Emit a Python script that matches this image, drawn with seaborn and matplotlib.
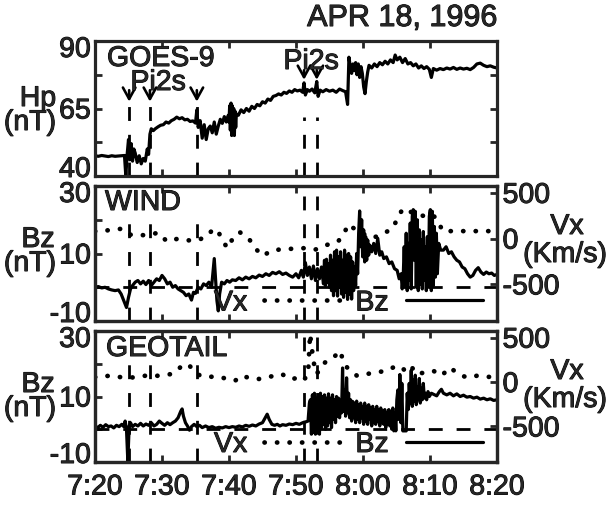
import matplotlib
matplotlib.use("Agg")
import matplotlib.pyplot as plt
import matplotlib.patheffects as pe
from matplotlib.text import Text
from matplotlib.transforms import ScaledTranslation
import seaborn as sns

# time axis: minutes after 07:20 UT, APR 18 1996
TICK_MIN = [0, 10, 20, 30, 40, 50, 60]
TICK_LABELS = ["7:20", "7:30", "7:40", "7:50", "8:00", "8:10", "8:20"]
PI2_ONSETS = [5.1, 8.2, 15.2, 31.2, 33.1]

# GOES-9 Hp (nT): (minute, value)
HP = [(0.0, 47.5), (0.5, 47.3), (1.0, 47.6), (1.5, 47.4), (2.0, 47.2), (2.5, 47.5),
      (3.0, 47.3), (3.5, 47.4), (4.0, 47.5), (4.4, 47.6), (4.6, 40.0), (4.8, 48.0),
      (5.0, 53.5), (5.2, 46.0), (5.4, 52.0), (5.6, 45.5), (5.8, 50.0), (6.0, 48.5),
      (6.3, 45.0), (6.6, 47.5), (6.9, 44.5), (7.2, 46.5), (7.5, 45.5), (7.8, 50.0),
      (8.0, 48.0), (8.2, 55.5), (8.4, 57.5), (8.7, 56.8), (9.0, 57.5), (9.4, 58.2),
      (9.8, 58.8), (10.2, 59.0), (10.6, 60.0), (11.0, 59.6), (11.4, 60.5), (11.8, 61.0),
      (12.2, 61.8), (12.6, 61.2), (13.0, 61.6), (13.4, 60.8), (13.8, 61.0), (14.2, 60.2),
      (14.6, 60.4), (15.0, 59.6), (15.2, 64.5), (15.4, 58.0), (15.7, 60.5), (16.0, 54.0),
      (16.3, 59.0), (16.6, 53.5), (16.9, 57.5), (17.2, 58.5), (17.5, 56.0), (17.8, 60.0),
      (18.1, 55.5), (18.4, 58.5), (18.7, 61.0), (19.0, 59.5), (19.3, 62.0), (19.6, 60.0),
      (19.9, 62.5), (20.0, 60.0), (20.1, 66.0), (20.2, 57.0), (20.3, 67.0), (20.4, 55.0),
      (20.5, 66.0), (20.6, 56.0), (20.7, 65.0), (20.8, 55.0), (20.9, 64.0), (21.0, 58.0),
      (21.1, 63.0), (21.4, 62.5), (21.8, 64.5), (22.2, 63.5), (22.6, 65.0), (23.0, 64.0),
      (23.4, 65.8), (23.8, 65.0), (24.2, 66.5), (24.6, 66.0), (25.0, 67.5), (25.4, 67.0),
      (25.8, 68.5), (26.2, 68.0), (26.6, 69.5), (27.0, 69.8), (27.4, 70.4), (27.8, 70.0),
      (28.2, 71.0), (28.6, 70.6), (29.0, 71.5), (29.4, 71.0), (29.8, 72.0), (30.2, 71.5),
      (30.6, 71.8), (31.0, 71.0), (31.2, 74.5), (31.4, 70.0), (31.7, 72.0), (32.0, 71.4),
      (32.4, 72.2), (32.8, 70.8), (33.1, 75.0), (33.3, 69.5), (33.6, 71.8), (34.0, 71.2),
      (34.5, 72.0), (35.0, 71.4), (35.5, 71.8), (36.0, 71.0), (36.5, 72.2), (37.0, 71.6),
      (37.4, 71.2), (37.7, 66.5), (37.9, 84.0), (38.1, 80.5), (38.3, 78.0), (38.5, 81.5),
      (38.7, 79.0), (38.9, 82.0), (39.1, 77.5), (39.3, 81.5), (39.5, 76.5), (39.7, 80.5),
      (39.9, 78.0), (40.1, 73.0), (40.3, 70.5), (40.5, 75.0), (40.7, 78.5), (40.9, 81.0),
      (41.3, 80.0), (41.7, 81.5), (42.1, 80.5), (42.5, 82.0), (42.9, 81.2), (43.3, 82.5),
      (43.7, 81.5), (44.1, 83.0), (44.5, 82.0), (44.8, 84.8), (45.1, 83.0), (45.5, 84.0),
      (45.9, 82.0), (46.3, 83.5), (46.7, 81.5), (47.1, 82.0), (47.5, 80.8), (47.9, 81.5),
      (48.3, 80.0), (48.7, 80.8), (49.1, 79.8), (49.5, 80.5), (49.9, 79.5), (50.2, 76.5),
      (50.5, 79.8), (51.0, 79.2), (51.5, 79.8), (52.0, 79.4), (52.5, 80.0), (53.0, 79.6),
      (53.5, 80.2), (54.0, 79.5), (54.5, 80.0), (55.0, 79.6), (55.5, 79.9), (56.0, 79.4),
      (56.5, 80.2), (57.0, 81.5), (57.5, 81.8), (58.0, 81.0), (58.5, 80.5), (59.0, 80.8),
      (59.5, 80.3), (60.0, 80.0)]

# WIND Bz (nT)
WIND_BZ = [(0.0, 0.0), (0.5, 0.2), (1.0, -0.2), (1.5, 0.0), (2.0, -0.5), (2.5, -0.8),
           (3.0, -1.0), (3.5, -0.8), (3.9, -2.0), (4.3, -4.0), (4.7, -6.0), (5.0, -3.0),
           (5.3, -0.5), (5.6, 0.5), (6.0, 1.5), (6.4, 2.0), (6.8, 1.0), (7.2, 1.8),
           (7.6, 0.8), (8.0, 2.0), (8.4, 0.5), (8.8, 1.5), (9.2, 2.5), (9.6, 2.0),
           (10.0, 3.5), (10.4, 2.5), (10.8, 1.0), (11.2, 1.5), (11.6, 0.0), (12.0, 0.5),
           (12.4, -0.5), (12.8, -1.0), (13.2, -1.5), (13.6, -2.5), (14.0, -2.0), (14.4, -3.8),
           (14.7, -1.5), (15.0, -1.8), (15.4, 0.0), (15.8, -0.5), (16.2, 1.0), (16.6, 0.5),
           (17.0, 1.5), (17.4, 0.0), (17.8, 8.5), (18.0, 2.0), (18.2, -4.0), (18.4, -7.0),
           (18.6, -2.0), (18.9, 1.5), (19.3, 1.0), (19.7, 2.0), (20.1, 1.5), (20.5, 2.2),
           (21.0, 2.0), (21.5, 2.8), (22.0, 2.2), (22.5, 3.0), (23.0, 2.5), (23.5, 3.2),
           (24.0, 2.8), (24.5, 3.6), (25.0, 3.2), (25.5, 4.0), (26.0, 3.5), (26.5, 4.4),
           (27.0, 4.0), (27.5, 4.6), (28.0, 3.8), (28.5, 4.2), (29.0, 3.5), (29.5, 3.0),
           (30.0, 4.0), (30.4, 2.8), (30.8, 5.0), (31.1, 3.0), (31.4, 7.3), (31.7, 3.5),
           (32.0, 6.0), (32.3, 2.5), (32.6, 6.3), (32.9, 2.0), (33.2, 5.5), (33.5, 2.5),
           (33.8, 6.0), (34.1, 1.0), (34.25, 8.0), (34.4, 0.5), (34.55, 8.3), (34.7, 1.5),
           (34.85, 7.0), (35.0, 0.0), (35.15, 9.5), (35.3, -1.0), (35.45, 8.0), (35.6, -2.5),
           (35.75, 10.5), (35.9, -1.0), (36.05, 11.0), (36.2, -2.6), (36.35, 9.0), (36.5, 0.0),
           (36.65, 10.5), (36.8, -2.0), (36.95, 8.0), (37.1, -3.0), (37.25, 11.0), (37.4, -1.5),
           (37.55, 9.5), (37.7, -3.6), (37.85, 10.0), (38.0, -2.0), (38.15, 9.0), (38.3, -3.5),
           (38.45, 7.5), (38.6, -1.0), (38.75, 6.0), (38.9, 0.5), (39.05, 10.0), (39.2, 4.0),
           (39.35, 16.0), (39.5, 22.6), (39.65, 12.0), (39.8, 20.0), (39.95, 9.0), (40.1, 17.0),
           (40.25, 7.5), (40.4, 15.0), (40.55, 8.0), (40.7, 14.0), (40.85, 9.5), (41.0, 12.5),
           (41.3, 10.5), (41.6, 13.0), (41.9, 10.0), (42.2, 14.5), (42.5, 9.5), (42.8, 10.5),
           (43.1, 8.5), (43.5, 9.0), (43.9, 7.0), (44.3, 7.5), (44.7, 5.5), (45.1, 5.0),
           (45.4, 2.5), (45.7, 4.0), (45.85, -0.5), (46.0, 3.0), (46.15, 12.0), (46.3, 0.5),
           (46.45, 16.0), (46.6, -1.0), (46.75, 13.0), (46.9, 2.0), (47.05, 19.0), (47.2, -0.5),
           (47.35, 21.0), (47.5, 23.0), (47.65, 8.0), (47.8, 22.5), (47.95, 0.0), (48.1, 20.0),
           (48.25, -1.0), (48.4, 17.0), (48.55, 1.0), (48.7, 14.0), (48.85, -0.5), (49.0, 16.5),
           (49.15, 2.0), (49.3, 12.0), (49.45, -1.0), (49.6, 15.0), (49.75, 0.0), (49.9, 21.0),
           (50.05, 23.0), (50.2, -1.0), (50.35, 22.5), (50.5, 0.5), (50.65, 18.0), (50.8, 3.0),
           (50.95, 16.0), (51.1, 4.0), (51.3, 13.0), (51.6, 11.0), (52.0, 11.0), (52.4, 12.0),
           (52.8, 10.0), (53.2, 10.5), (53.6, 9.0), (54.0, 8.0), (54.4, 7.5), (54.8, 6.0),
           (55.2, 5.5), (55.6, 4.0), (56.0, 3.0), (56.4, 3.5), (56.8, 5.0), (57.2, 5.8),
           (57.6, 4.5), (58.0, 3.8), (58.4, 4.5), (58.8, 4.0), (59.2, 4.2), (59.6, 3.5),
           (60.0, 3.8)]

# WIND Vx (km/s)
WIND_VX = [(0.0, 80), (0.8, 82), (2.2, 93), (4.0, 108), (5.1, 45), (6.5, 33),
           (8.1, 45), (9.5, 64), (10.7, -29), (12.2, -4), (13.7, -18), (15.1, -22),
           (16.6, 19), (17.7, 108), (18.4, 82), (18.9, -11), (19.8, -104), (20.6, 8),
           (21.6, 71), (23.0, -4), (23.9, -104), (25.0, -189), (26.4, -130), (28.0, -115),
           (29.4, -111), (31.3, -104), (32.8, -122), (34.1, -85), (35.3, -48), (36.3, -29),
           (37.1, 45), (37.8, 156), (38.5, 119), (39.6, 64), (41.5, 8), (43.3, 64),
           (44.5, 119), (45.3, 249), (46.0, 330), (46.8, 304), (47.8, 267), (49.0, 249),
           (50.2, 267), (51.0, 219), (51.9, 82), (53.4, 82), (55.0, 82), (56.5, 82),
           (58.0, 82), (60.0, 82)]

# GEOTAIL Bz (nT)
GEO_BZ = [(0.0, 1.0), (0.4, 0.5), (0.8, 1.2), (1.2, 0.6), (1.6, 1.4), (2.0, 0.8),
          (2.4, 1.0), (2.8, 0.4), (3.2, 1.2), (3.6, 0.8), (4.0, 1.5), (4.3, 0.8),
          (4.5, 2.5), (4.7, 0.0), (4.9, -9.8), (5.1, 1.0), (5.3, 2.0), (5.6, 0.8),
          (6.0, 1.5), (6.4, 1.0), (6.8, 1.8), (7.2, 1.0), (7.6, 1.6), (8.0, 1.2),
          (8.4, 2.0), (8.8, 1.0), (9.2, 1.5), (9.6, 2.5), (10.0, 1.8), (10.4, 1.2),
          (10.8, 2.0), (11.2, 1.4), (11.6, 2.0), (12.0, 2.5), (12.4, 3.5), (12.8, 5.5),
          (13.0, 6.2), (13.2, 4.0), (13.5, 2.0), (13.8, 1.0), (14.1, -0.3), (14.4, 0.8),
          (14.8, 1.5), (15.2, 0.8), (15.6, 1.2), (16.0, 0.5), (16.5, 1.0), (17.0, 0.5),
          (17.5, 0.8), (18.0, 0.3), (18.5, 0.6), (19.0, 0.4), (19.5, 0.8), (20.0, 0.5),
          (20.5, 0.8), (21.0, 0.6), (21.5, 1.0), (22.0, 0.7), (22.5, 1.2), (23.0, 0.9),
          (23.5, 1.3), (24.0, 1.0), (24.5, 1.6), (25.0, 2.0), (25.4, 3.5), (25.7, 4.6),
          (26.0, 3.0), (26.4, 1.5), (26.8, 1.2), (27.2, 1.5), (27.6, 1.0), (28.0, 1.4),
          (28.5, 1.2), (29.0, 1.6), (29.5, 1.4), (30.0, 1.8), (30.5, 1.5), (31.0, 2.0),
          (31.4, 2.2), (31.8, 2.5), (32.0, 8.0), (32.15, 9.0), (32.3, -1.5), (32.45, 10.5),
          (32.6, -1.0), (32.75, 11.0), (32.9, -1.5), (33.05, 9.5), (33.2, -0.5), (33.35, 10.5),
          (33.5, -1.5), (33.65, 11.0), (33.8, 0.5), (33.95, 10.0), (34.1, 1.5), (34.25, 10.5),
          (34.4, 0.0), (34.55, 9.5), (34.7, 1.0), (34.85, 10.8), (35.0, 2.0), (35.15, 9.5),
          (35.3, 0.5), (35.45, 10.5), (35.6, 3.0), (35.75, 9.0), (35.9, 2.0), (36.05, 10.0),
          (36.2, 4.0), (36.35, 9.5), (36.5, 3.5), (36.65, 8.0), (36.8, 5.0), (36.95, 18.7),
          (37.1, 5.5), (37.25, 12.0), (37.4, 4.0), (37.55, 15.7), (37.7, 5.0), (37.85, 11.0),
          (38.0, 3.5), (38.15, 9.0), (38.3, 2.5), (38.45, 8.5), (38.6, 3.5), (38.75, 8.0),
          (38.9, 2.0), (39.05, 8.6), (39.2, 3.0), (39.35, 7.5), (39.5, 2.0), (39.65, 8.0),
          (39.8, 3.5), (39.95, 7.0), (40.1, 1.5), (40.25, 8.0), (40.4, 2.5), (40.55, 7.0),
          (40.7, 1.5), (40.85, 7.5), (41.0, 3.0), (41.15, 6.5), (41.3, 1.0), (41.45, 7.0),
          (41.6, 2.0), (41.75, 6.0), (41.9, 1.5), (42.05, 7.0), (42.2, 2.5), (42.35, 6.0),
          (42.5, 1.0), (42.65, 6.5), (42.8, 2.0), (42.95, 5.5), (43.1, 1.5), (43.25, 6.0),
          (43.4, 0.5), (43.55, 5.0), (43.7, 1.5), (43.85, 6.0), (44.0, 1.0), (44.15, 5.5),
          (44.3, 0.0), (44.45, 6.5), (44.6, -0.5), (44.75, 5.0), (44.9, -0.5), (45.05, 9.0),
          (45.2, 12.0), (45.35, 3.0), (45.5, 16.7), (45.65, 2.0), (45.8, 14.0), (45.95, -0.5),
          (46.2, -0.5), (46.45, -0.5), (46.6, 11.0), (46.75, 6.0), (46.9, 14.0), (47.05, 8.0),
          (47.2, 18.0), (47.35, 7.0), (47.5, 15.0), (47.65, 8.5), (47.8, 16.5), (47.95, 7.5),
          (48.1, 13.0), (48.25, 9.0), (48.4, 15.5), (48.55, 8.0), (48.7, 12.5), (48.85, 9.0),
          (49.0, 14.0), (49.15, 9.5), (49.3, 11.0), (49.5, 9.0), (49.7, 11.5), (49.9, 10.0),
          (50.2, 11.0), (50.6, 10.6), (51.0, 10.2), (51.4, 11.5), (51.7, 12.2), (52.0, 11.0),
          (52.5, 10.5), (53.0, 11.0), (53.5, 10.2), (54.0, 10.8), (54.5, 10.0), (55.0, 10.4),
          (55.5, 9.8), (56.0, 10.0), (56.5, 9.5), (57.0, 9.8), (57.5, 9.2), (58.0, 9.5),
          (58.5, 9.0), (59.0, 9.3), (59.5, 8.8), (60.0, 9.0)]

# GEOTAIL Vx (km/s)
GEO_VX = [(0.0, 55), (0.6, 60), (2.2, 71), (4.2, 52), (5.7, 52), (7.5, 71),
          (9.5, 71), (11.4, 90), (12.3, 127), (12.9, 183), (13.9, 202), (15.2, 90),
          (16.2, 60), (18.4, 60), (20.9, 15), (21.9, 71), (23.1, 45), (24.4, 34),
          (25.6, 52), (27.9, 90), (29.1, 34), (30.3, 45), (31.1, 15), (31.8, 90),
          (32.1, 540), (32.3, 420), (32.5, 300), (32.7, 200), (33.1, 90), (33.8, 183),
          (34.6, 239), (35.6, 277), (36.6, 352), (37.1, 221), (37.8, 146), (39.1, 71),
          (40.5, 90), (42.0, 109), (43.5, 127), (45.0, 183), (45.8, 165), (46.5, 109),
          (47.3, 165), (48.0, 90), (49.3, 109), (50.5, 127), (51.7, 71), (53.0, 165),
          (54.2, 90), (55.5, 52), (57.0, 71), (58.5, 60), (60.0, 52)]

FS = 20.5
W, H = 606, 506

sns.set_style("ticks")
plt.rcParams["font.family"] = ["Liberation Sans", "DejaVu Sans"]
plt.rcParams["font.size"] = FS
plt.rcParams["axes.unicode_minus"] = False

fig = plt.figure(figsize=(W / 100, H / 100), dpi=100)


def px_axes(left, top, right, bottom):
    return fig.add_axes([left / W, 1 - bottom / H, (right - left) / W, (bottom - top) / H])


def ptext(x, y, s, **kw):
    kw.setdefault("ha", "center")
    kw.setdefault("va", "center")
    kw.setdefault("fontsize", FS)
    fig.text(x / W, 1 - y / H, s, **kw)


def trace(ax, pts, **kw):
    t, v = zip(*pts)
    sns.lineplot(x=list(t), y=list(v), ax=ax, color="k", estimator=None, sort=False, **kw)
    return ax.lines[-1]


def frame(ax, ylim, yticks, yminor, bottom_labels=False):
    for s in ax.spines.values():
        s.set_visible(True)
        s.set_linewidth(2.3)
    ax.set_xlim(0, 60)
    ax.set_ylim(*ylim)
    ax.set_xticks(TICK_MIN)
    ax.set_xticklabels(TICK_LABELS if bottom_labels else [])
    ax.set_yticks(yticks)
    ax.set_yticks(yminor, minor=True)
    ax.tick_params(which="both", direction="in", length=5, width=2,
                   top=True, bottom=True, labelsize=FS)
    ax.tick_params(axis="y", pad=3)
    ax.tick_params(axis="x", pad=9)
    ax.set_xlabel("")
    ax.set_ylabel("")


def nudge(label, dy_px):
    label.set_transform(label.get_transform()
                        + ScaledTranslation(0, dy_px / 100, fig.dpi_scale_trans))


DASH = (0, (5, 5))
DOTS = (0, (0.05, 2.6))

ax1 = px_axes(95, 42, 497, 177)
ax2 = px_axes(95, 187, 497, 322)
ax3 = px_axes(95, 332, 497, 463)

# --- GOES-9 ---
ax1.vlines(PI2_ONSETS[:3], 40, 66, colors="k", linestyles=DASH, lw=2)
ax1.vlines(PI2_ONSETS[3:], 40, 62, colors="k", linestyles=DASH, lw=2)
trace(ax1, HP, lw=2.3)
arrow = dict(arrowstyle="->,head_length=0.4,head_width=0.22", lw=1.9, color="k")
for t in PI2_ONSETS[:3]:
    ax1.annotate("", xy=(t, 66.5), xytext=(t, 72.8), arrowprops=arrow)
for t in PI2_ONSETS[3:]:
    ax1.annotate("", xy=(t, 74.6), xytext=(t, 80.2), arrowprops=arrow)
frame(ax1, (40, 90), [40, 65, 90], [52.5, 77.5])
ax1.tick_params(right=True, which="both")

# --- WIND / GEOTAIL ---
for ax, bz, vx in [(ax2, WIND_BZ, WIND_VX), (ax3, GEO_BZ, GEO_VX)]:
    ax.axhline(0, color="k", lw=2, ls=DASH)
    ax.vlines(PI2_ONSETS[:3], -10, 22, colors="k", linestyles=DASH, lw=2)
    ax.vlines(PI2_ONSETS[3:], -10, 30, colors="k", linestyles=DASH, lw=2)
    bz_line = trace(ax, bz, lw=2.3)
    frame(ax, (-10, 30), [-10, 10, 30], [0, 20], bottom_labels=(ax is ax3))
    axr = ax.twinx()
    vx_line = trace(axr, vx, lw=3.4, linestyle=DOTS, dash_capstyle="round")
    axr.set_ylim(-900, 575)
    axr.set_yticks([-500, 0, 500])
    axr.tick_params(direction="in", length=5, width=2, labelsize=FS, pad=4)
    axr.set_ylabel("")
    for s in axr.spines.values():
        s.set_linewidth(2.3)
    axr.legend([vx_line, bz_line], ["Vx", "Bz"], markerfirst=False, ncol=2,
               frameon=False, fontsize=FS, handlelength=2.7, handletextpad=0.6,
               columnspacing=0.5, loc="center", bbox_to_anchor=(0.63, 0.13),
               borderaxespad=0, borderpad=0)

# end labels sit just inside the frame, as in the original
for ax in (ax1, ax2, ax3):
    ticks = ax.yaxis.get_major_ticks()
    nudge(ticks[0].label1, 9)
    nudge(ticks[-1].label1, -6)

# --- labels ---
fig.text(497 / W, 1 - 27 / H, "APR 18, 1996", ha="right", va="baseline", fontsize=22)
ptext(107, 67, "GOES-9", ha="left", va="baseline")
ptext(158, 91, "Pi2s", va="baseline")
ptext(311, 70, "Pi2s", va="baseline")
ptext(105, 211, "WIND", ha="left", va="baseline")
ptext(106, 357, "GEOTAIL", ha="left", va="baseline")
for yc, unit in [(100, "Hp"), (241, "Bz"), (386, "Bz")]:
    ptext(38, yc, unit)
    ptext(30, yc + 24, "(nT)")
for yc in [228, 373]:
    ptext(567, yc, "Vx")
    ptext(565, yc + 28, "(Km/s)")

for txt in fig.findobj(Text):
    txt.set_path_effects([pe.withStroke(linewidth=0.7, foreground="k")])

fig.savefig("out.png", dpi=100)
